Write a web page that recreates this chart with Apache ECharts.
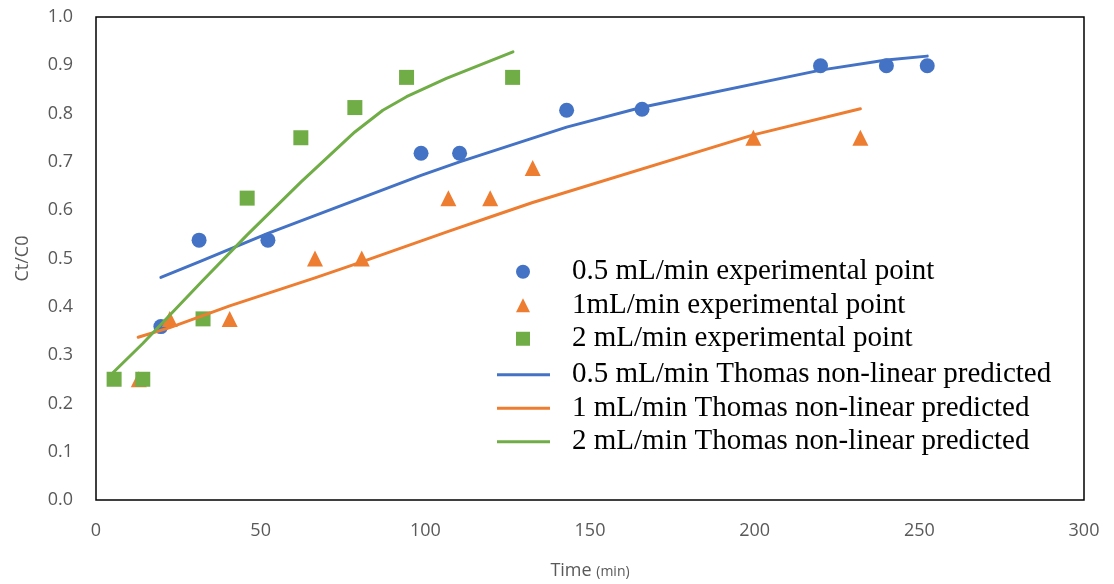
<!DOCTYPE html>
<html>
<head>
<meta charset="utf-8">
<script src="https://cdn.jsdelivr.net/npm/echarts@6/dist/echarts.min.js"></script>
<style>
  html, body { margin: 0; padding: 0; background: #fff; }
  #chart { width: 1114px; height: 584px; }
</style>
</head>
<body>
<div id="chart"></div>
<script>
// experimental points [time, Ct/C0]
const exp05 = [[19.7, 0.359], [31.3, 0.538], [52.2, 0.538], [98.7, 0.718], [110.4, 0.718],
    [142.9, 0.807], [165.8, 0.809], [220, 0.899], [240, 0.899], [252.4, 0.899]];
const exp1 = [[13, 0.25], [22.4, 0.375], [40.6, 0.375], [66.5, 0.5], [80.7, 0.5],
    [107, 0.625], [119.7, 0.625], [132.6, 0.6875], [199.6, 0.75], [232.1, 0.75]];
const exp2 = [[5.5, 0.25], [14.2, 0.25], [32.5, 0.375], [45.9, 0.625], [62.2, 0.75],
    [78.6, 0.8125], [94.3, 0.875], [126.5, 0.875]];

// Thomas non-linear predicted curves
const pred05 = [[19.7, 0.461], [31.3, 0.493], [52.2, 0.552], [98.7, 0.672], [110.4, 0.700],
    [142.9, 0.772], [165.8, 0.813], [220, 0.890], [240, 0.911], [252.4, 0.919]];
const pred1 = [[12.8, 0.337], [22.4, 0.357], [40.6, 0.402], [66.5, 0.460], [80.7, 0.493],
    [107, 0.556], [119.7, 0.586], [132.6, 0.616], [199.6, 0.756], [232.1, 0.810]];
const pred2 = [[5.2, 0.264], [14.2, 0.324], [32.5, 0.455], [45.9, 0.549], [62.2, 0.658],
    [78.6, 0.762], [87.1, 0.807], [94.3, 0.835], [106.4, 0.873], [126.6, 0.928]];

const xTicks = [0, 50, 100, 150, 200, 250, 300];
const yTicks = [0, 0.1, 0.2, 0.3, 0.4, 0.5, 0.6, 0.7, 0.8, 0.9, 1.0];

const pointNames = [
    '0.5 mL/min experimental point',
    '1mL/min experimental point',
    '2 mL/min experimental point'
];
const lineNames = [
    '0.5 mL/min Thomas non-linear predicted',
    '1 mL/min Thomas non-linear predicted',
    '2 mL/min Thomas non-linear predicted'
];
const colors = ['#4472C4', '#ED7D31', '#70AD47'];

const chart = echarts.init(document.getElementById('chart'));
const axisFont = { fontFamily: 'Open Sans', fontSize: 18, color: '#595959' };
const legendText = { fontFamily: 'Liberation Serif', fontSize: 29, color: '#000', lineHeight: 33.5 };

chart.setOption({
    animation: false,
    grid: {
        left: 96, right: 30, top: 17, bottom: 84,
        outerBoundsMode: 'none',
        show: true, borderColor: '#000', borderWidth: 1.5
    },
    legend: [
        {
            orient: 'vertical', left: 511, top: 250,
            itemWidth: 14, itemHeight: 14, itemGap: 0,
            textStyle: Object.assign({ padding: [0, 0, 0, 37] }, legendText),
            data: pointNames
        },
        {
            orient: 'vertical', left: 492, top: 353,
            itemWidth: 53, itemHeight: 3, itemGap: 0, icon: 'rect',
            textStyle: Object.assign({ padding: [0, 0, 0, 17] }, legendText),
            data: lineNames
        }
    ],
    xAxis: {
        type: 'value',
        min: xTicks[0], max: xTicks[xTicks.length - 1], interval: 50,
        axisLine: { show: false }, axisTick: { show: false }, splitLine: { show: false },
        axisLabel: Object.assign({ margin: 22 }, axisFont),
        name: '{a|Time }{b|(min)}',
        nameLocation: 'middle', nameGap: 62,
        nameTextStyle: {
            rich: {
                a: { fontFamily: 'Open Sans', fontSize: 18, color: '#595959' },
                b: { fontFamily: 'Open Sans', fontSize: 14, color: '#595959', padding: [3, 0, 0, 0] }
            }
        }
    },
    yAxis: {
        type: 'value',
        min: yTicks[0], max: yTicks[yTicks.length - 1], interval: 0.1,
        axisLine: { show: false }, axisTick: { show: false }, splitLine: { show: false },
        axisLabel: Object.assign({ margin: 23, formatter: v => v.toFixed(1) }, axisFont),
        name: 'Ct/C0',
        nameLocation: 'middle', nameGap: 64,
        nameTextStyle: { fontFamily: 'Open Sans', fontSize: 18, color: '#595959' }
    },
    series: [
        { name: pointNames[0], type: 'scatter', data: exp05, symbol: 'circle', symbolSize: 15, itemStyle: { color: colors[0], opacity: 1 } },
        { name: pointNames[1], type: 'scatter', data: exp1, symbol: 'triangle', symbolSize: 16, itemStyle: { color: colors[1], opacity: 1 } },
        { name: pointNames[2], type: 'scatter', data: exp2, symbol: 'rect', symbolSize: 15, itemStyle: { color: colors[2], opacity: 1 } },
        { name: lineNames[0], type: 'line', data: pred05, symbol: 'none', lineStyle: { color: colors[0], width: 3, cap: 'round', join: 'round' }, itemStyle: { color: colors[0] } },
        { name: lineNames[1], type: 'line', data: pred1, symbol: 'none', lineStyle: { color: colors[1], width: 3, cap: 'round', join: 'round' }, itemStyle: { color: colors[1] } },
        { name: lineNames[2], type: 'line', data: pred2, symbol: 'none', lineStyle: { color: colors[2], width: 3, cap: 'round', join: 'round' }, itemStyle: { color: colors[2] } }
    ]
});
</script>
</body>
</html>
